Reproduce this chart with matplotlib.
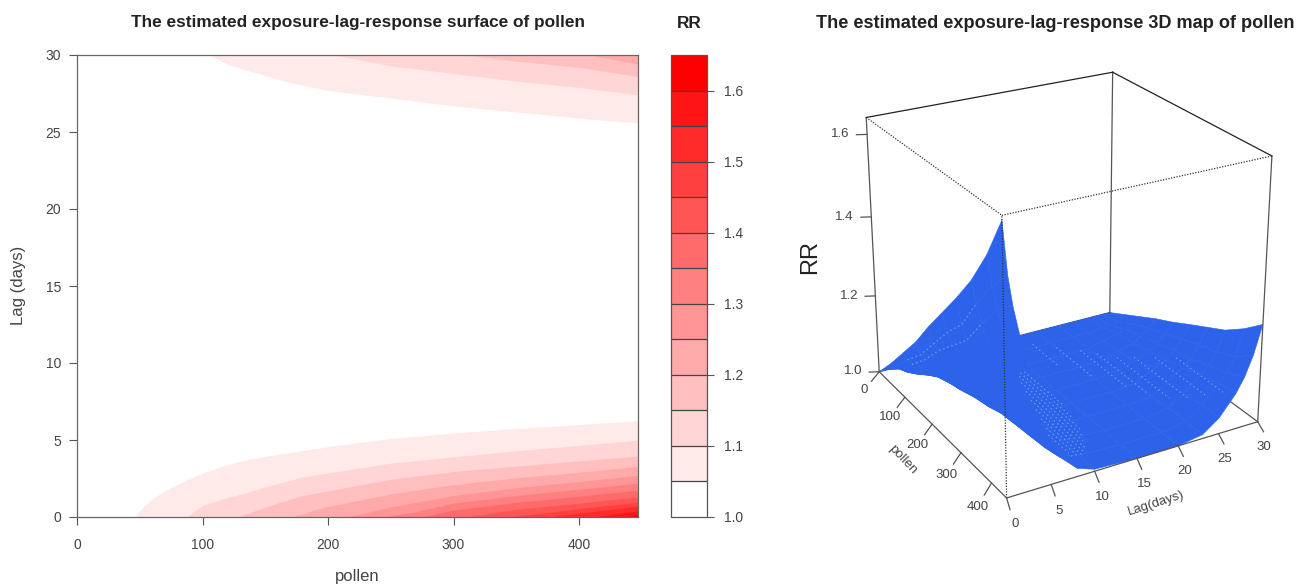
import numpy as np
import matplotlib
matplotlib.use('Agg')
import matplotlib.pyplot as plt
from matplotlib.colors import LinearSegmentedColormap, BoundaryNorm
from matplotlib.cm import ScalarMappable

plt.rcParams['font.family'] = ['Liberation Sans', 'DejaVu Sans']

# RR band limits of the legend
rr_levels = [1.0, 1.05, 1.1, 1.15, 1.2, 1.25, 1.3, 1.35, 1.4, 1.45, 1.5, 1.55, 1.6, 1.65]
rr_ticks = [1.0, 1.1, 1.2, 1.3, 1.4, 1.5, 1.6]

# lower part of the left panel: contour lines (pollen, lag)
low_105_p = [46, 52, 60, 70, 87, 100, 114, 127, 140, 167, 207, 250, 300, 350, 400, 447]
low_105_l = [0, 0.6, 1.2, 1.7, 2.4, 2.85, 3.25, 3.55, 3.8, 4.15, 4.65, 5.1, 5.45, 5.75, 6.0, 6.25]
low_110_p = [88, 94, 100, 113, 127, 154, 180, 207, 250, 300, 350, 400, 447]
low_110_l = [0, 0.4, 0.75, 1.1, 1.4, 2.05, 2.6, 2.95, 3.5, 3.9, 4.3, 4.65, 5.0]
low_115_p = [128, 140, 154, 180, 207, 250, 300, 350, 400, 447]
low_115_l = [0, 0.35, 0.75, 1.4, 1.8, 2.45, 2.95, 3.3, 3.65, 3.95]
low_120_p = [172, 193, 207, 250, 300, 350, 400, 447]
low_120_l = [0, 0.55, 0.8, 1.5, 2.1, 2.55, 2.9, 3.3]
low_125_p = [215, 250, 300, 350, 400, 447]
low_125_l = [0, 0.65, 1.4, 1.9, 2.3, 2.7]
low_130_p = [245, 270, 300, 350, 400, 447]
low_130_l = [0, 0.35, 0.9, 1.4, 1.8, 2.2]
low_135_p = [275, 300, 350, 400, 447]
low_135_l = [0, 0.45, 0.95, 1.35, 1.75]
low_140_p = [310, 350, 400, 447]
low_140_l = [0, 0.5, 0.9, 1.3]
low_145_p = [345, 400, 447]
low_145_l = [0, 0.55, 0.95]
low_150_p = [375, 400, 447]
low_150_l = [0, 0.25, 0.7]
low_155_p = [410, 447]
low_155_l = [0, 0.4]
low_160_p = [437, 447]
low_160_l = [0, 0.15]

# upper part of the left panel
up_105_p = [105, 120, 140, 170, 200, 250, 300, 350, 400, 447]
up_105_l = [30, 29.4, 28.9, 28.2, 27.7, 27.2, 26.7, 26.3, 25.9, 25.6]
up_110_p = [205, 250, 300, 350, 400, 447]
up_110_l = [30, 29.3, 28.8, 28.3, 27.9, 27.4]
up_115_p = [310, 350, 400, 447]
up_115_l = [30, 29.6, 29.2, 28.6]
up_120_p = [409, 447]
up_120_l = [30, 29.4]

# RR surface of the right panel, one row per lag
surf_pollen = [0, 50, 100, 150, 200, 250, 300, 350, 400, 447]
surf_lag = [0, 0.5, 1, 2, 3, 4, 5, 6, 8, 10, 15, 20, 23, 25, 27, 28, 29, 30]
surf_rr = [
    [1.00, 1.055, 1.115, 1.175, 1.245, 1.31, 1.375, 1.445, 1.53, 1.63],
    [1.00, 1.045, 1.095, 1.14, 1.20, 1.26, 1.31, 1.39, 1.46, 1.51],
    [1.00, 1.035, 1.08, 1.125, 1.18, 1.225, 1.27, 1.34, 1.405, 1.44],
    [1.00, 1.02, 1.06, 1.09, 1.135, 1.17, 1.23, 1.28, 1.32, 1.34],
    [1.00, 1.01, 1.04, 1.07, 1.10, 1.13, 1.16, 1.19, 1.225, 1.24],
    [1.00, 1.005, 1.03, 1.045, 1.06, 1.075, 1.10, 1.11, 1.135, 1.145],
    [1.00, 1.0, 1.02, 1.025, 1.04, 1.05, 1.065, 1.08, 1.09, 1.10],
    [1.00, 1.0, 1.01, 1.015, 1.025, 1.035, 1.04, 1.045, 1.05, 1.06],
    [1.00, 1.0, 1.0, 1.0, 1.005, 1.005, 1.01, 1.01, 1.015, 1.02],
    [1.00, 1.0, 1.0, 1.0, 1.0, 1.0, 1.0, 1.005, 1.005, 1.005],
    [1.00, 1.0, 1.0, 1.0, 1.0, 1.0, 1.0, 1.0, 1.0, 1.0],
    [1.00, 1.0, 1.0, 1.0, 1.0, 1.0, 1.0, 1.0, 1.0, 1.0],
    [1.00, 1.0, 1.0, 1.0, 1.005, 1.005, 1.005, 1.01, 1.01, 1.01],
    [1.00, 1.0, 1.01, 1.015, 1.02, 1.025, 1.03, 1.035, 1.04, 1.04],
    [1.00, 1.005, 1.02, 1.025, 1.035, 1.045, 1.06, 1.07, 1.085, 1.09],
    [1.00, 1.005, 1.025, 1.04, 1.05, 1.065, 1.075, 1.09, 1.105, 1.125],
    [1.00, 1.01, 1.035, 1.055, 1.07, 1.09, 1.105, 1.12, 1.14, 1.175],
    [1.00, 1.025, 1.05, 1.075, 1.097, 1.122, 1.146, 1.17, 1.205, 1.245],
]

# pale flecks on the surface
fleck_lag = [9.5, 10, 10.5, 11, 11.5, 12, 12.5, 13, 13.5, 14, 18, 20, 22, 23, 24, 25, 26, 27]
fleck_p0 = [320, 300, 270, 240, 210, 180, 150, 130, 120, 120, 40, 70, 100, 130, 170, 200, 240, 280]
fleck_p1 = [400, 400, 395, 390, 380, 370, 350, 330, 290, 250, 130, 190, 250, 290, 330, 360, 390, 420]
fleck_rr = [1.0, 1.0, 1.0, 1.0, 1.0, 1.0, 1.0, 1.0, 1.0, 1.0, 1.0, 1.0, 1.0, 1.005, 1.015, 1.03, 1.05, 1.07]
fleck_rows = [1, 2]

pollen_ticks = [0, 100, 200, 300, 400]
lag_ticks = [0, 5, 10, 15, 20, 25, 30]
lag_ticks_3d = [0, 5, 10, 15, 20, 25, 30]
z_ticks = [1.0, 1.2, 1.4, 1.6]

W, H = 1311.0, 585.0
GREY = '#444444'
BLUE = '#2c63ea'


def rect(x0, y0, x1, y1):
    # pixel box, y counted from the top
    return [x0 / W, 1 - y1 / H, (x1 - x0) / W, (y1 - y0) / H]


fig = plt.figure(figsize=(13.11, 5.85), dpi=100)
cmap = LinearSegmentedColormap.from_list('rr', ['white', 'red'], len(rr_levels) - 1)
band = [cmap(i) for i in range(len(rr_levels) - 1)]

# left panel
ax = fig.add_axes(rect(77, 55, 638, 517))
low = [(low_105_p, low_105_l), (low_110_p, low_110_l), (low_115_p, low_115_l), (low_120_p, low_120_l),
       (low_125_p, low_125_l), (low_130_p, low_130_l), (low_135_p, low_135_l), (low_140_p, low_140_l),
       (low_145_p, low_145_l), (low_150_p, low_150_l), (low_155_p, low_155_l), (low_160_p, low_160_l)]
for i in range(len(low)):
    ax.fill_between(low[i][0], low[i][1], 0, color=band[i + 1], linewidth=0)
up = [(up_105_p, up_105_l), (up_110_p, up_110_l), (up_115_p, up_115_l), (up_120_p, up_120_l)]
for i in range(len(up)):
    ax.fill_between(up[i][0], up[i][1], 30, color=band[i + 1], linewidth=0)
ax.set_xlim(0, 447)
ax.set_ylim(0, 30)
ax.set_xticks(pollen_ticks)
ax.set_yticks(lag_ticks)
ax.tick_params(length=5.5, width=0.8, color='#555555', labelcolor=GREY, labelsize=10)
ax.tick_params(axis='x', pad=9.5)
ax.tick_params(axis='y', pad=6)
for s in ax.spines.values():
    s.set_color('#666666')
    s.set_linewidth(0.9)

fig.text(358 / W, 1 - 23 / H, 'The estimated exposure-lag-response surface of pollen', ha='center', va='center',
         fontsize=12.4, fontweight='bold', color='#222222')
fig.text(357 / W, 1 - 577 / H, 'pollen', ha='center', va='center', fontsize=12, color=GREY)
fig.text(19 / W, 1 - 285 / H, 'Lag (days)', ha='center', va='center', rotation=90, fontsize=12, color=GREY)

# legend
cax = fig.add_axes(rect(671, 55, 707, 517))
norm = BoundaryNorm(rr_levels, cmap.N)
cb = fig.colorbar(ScalarMappable(norm=norm, cmap=cmap), cax=cax, ticks=rr_ticks, drawedges=True, spacing='proportional')
cb.ax.set_yticklabels(['%.1f' % t for t in rr_ticks])
cb.ax.minorticks_off()
cb.ax.tick_params(length=5, width=0.8, color='#555555', labelcolor=GREY, labelsize=10, pad=7)
cb.dividers.set_color('#444444')
cb.dividers.set_linewidth(0.9)
cb.outline.set_edgecolor('#555555')
cb.outline.set_linewidth(0.9)
fig.text(689 / W, 1 - 23 / H, 'RR', ha='center', va='center', fontsize=12.4, fontweight='bold', color='#222222')

# right panel
ax3 = fig.add_axes([0.6223, 0.1145, 0.3675, 0.8236], projection='3d', computed_zorder=False)
ax3.patch.set_alpha(0)
ax3.set_xlim(0, 447, view_margin=0)
ax3.set_ylim(0, 30, view_margin=0)
ax3.set_zlim(1, 1.64, view_margin=0)
ax3.view_init(24.777, -29.783, 0.035)
ax3.set_proj_type('persp', focal_length=0.6645)
ax3.set_box_aspect((1.005, 1.0017, 1))
ax3.set_axis_off()

pm, lm = 447, 30
zb, zt = 1.0, 1.64
solid = dict(color='#555555', linewidth=0.9, zorder=1)
# back edges behind the surface
ax3.plot([0, 0], [lm, lm], [zb, zt], **solid)
ax3.plot([0, pm], [lm, lm], [zb, zb], **solid)
ax3.plot([0, 0], [0, lm], [zb, zb], **solid)

pp, ll = np.meshgrid(surf_pollen, surf_lag)
ax3.plot_surface(pp, ll, np.array(surf_rr), color=BLUE, shade=False, rstride=1, cstride=1,
                 linewidth=0.4, edgecolor=BLUE, antialiased=True, zorder=2)
fleck = dict(color='#6fa4ee', linewidth=0.9, linestyle=(0, (1, 2.5)), zorder=2.5)
for i in range(len(fleck_lag)):
    ax3.plot([fleck_p0[i], fleck_p1[i]], [fleck_lag[i], fleck_lag[i]], [fleck_rr[i], fleck_rr[i]], **fleck)
for r in fleck_rows:
    ax3.plot(surf_pollen[2:8], [surf_lag[r]] * 6, surf_rr[r][2:8], **fleck)

front = dict(color='#555555', linewidth=0.9, zorder=3)
ax3.plot([0, 0], [0, 0], [zb, zt], **front)
ax3.plot([pm, pm], [lm, lm], [zb, zt], **front)
ax3.plot([0, 0], [0, lm], [zt, zt], color='#222222', linewidth=0.9, zorder=3)
ax3.plot([0, pm], [lm, lm], [zt, zt], color='#222222', linewidth=0.9, zorder=3)
ax3.plot([0, pm], [0, 0], [zb, zb], **front)
ax3.plot([pm, pm], [0, lm], [zb, zb], **front)
dot = dict(color='#333333', linewidth=0.9, linestyle=(0, (1, 1.2)), zorder=3)
ax3.plot([pm, pm], [0, 0], [zb, zt], **dot)
ax3.plot([0, pm], [0, 0], [zt, zt], **dot)
ax3.plot([pm, pm], [0, lm], [zt, zt], **dot)

for p in pollen_ticks:
    ax3.plot([p, p + 24], [0, -1.66], [zb, zb], **front)
    ax3.text(p + 47, -3.17, zb, str(p), ha='center', va='center', fontsize=9.5, color=GREY)
for l in lag_ticks_3d:
    ax3.plot([pm, pm + 30], [l, l - 0.7], [zb, zb], **front)
    ax3.text(pm + 67, l - 1.5 - l / 30, zb, str(l), ha='center', va='center', fontsize=9.5, color=GREY)
for z in z_ticks:
    ax3.plot([0, -7], [0, -1], [z, z], **front)
    ax3.text(-22, -2.45, z, '%.1f' % z, ha='center', va='center', fontsize=9.5, color=GREY)

ax3.text(275, -5.8, zb, 'pollen', zdir=(1, 0, 0), ha='center', va='center', fontsize=9.5, color=GREY)
ax3.text(pm + 121, 12.1, zb, 'Lag(days)', zdir=(0, 1, 0), ha='center', va='center', fontsize=9.5, color=GREY)

fig.text(1055 / W, 1 - 23 / H, 'The estimated exposure-lag-response 3D map of pollen', ha='center', va='center',
         fontsize=13.1, fontweight='bold', color='#222222')
fig.text(810 / W, 1 - 257 / H, 'RR', ha='center', va='center', rotation=90, fontsize=17, color='#222222')

fig.savefig('out.png', dpi=100)
